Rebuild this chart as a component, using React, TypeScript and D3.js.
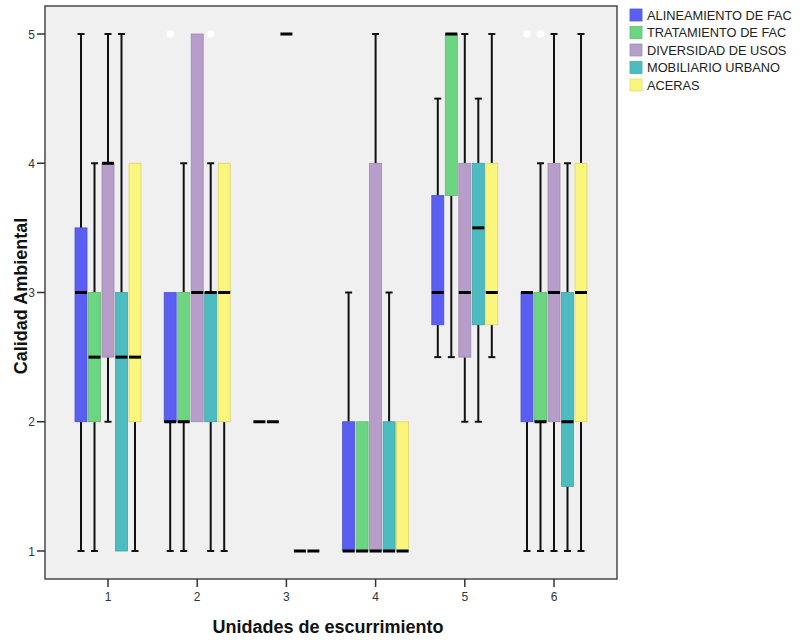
import React from "react";
import * as d3 from "d3";

// Groups along the x axis (Unidades de escurrimiento)
const groups = [1, 2, 3, 4, 5, 6];
const seriesNames = [
  "ALINEAMIENTO DE FAC",
  "TRATAMIENTO DE FAC",
  "DIVERSIDAD DE USOS",
  "MOBILIARIO URBANO",
  "ACERAS",
];
const seriesColors = ["#5a5ff2", "#6cd582", "#b79dca", "#4cbcc0", "#faf57c"];

// Five-number summaries (min, Q1, median, Q3, max) per series, one row per group
const alineamientoStats = [
  [1, 2, 3, 3.5, 5],
  [1, 2, 2, 3, 3],
  [2, 2, 2, 2, 2],
  [1, 1, 1, 2, 3],
  [2.5, 2.75, 3, 3.75, 4.5],
  [1, 2, 3, 3, 3],
];
const tratamientoStats = [
  [1, 2, 2.5, 3, 4],
  [1, 2, 2, 3, 4],
  [2, 2, 2, 2, 2],
  [1, 1, 1, 2, 2],
  [2.5, 3.75, 5, 5, 5],
  [1, 2, 2, 3, 4],
];
const diversidadStats = [
  [2, 2.5, 4, 4, 5],
  [2, 2, 3, 5, 5],
  [5, 5, 5, 5, 5],
  [1, 1, 1, 4, 5],
  [2, 2.5, 3, 4, 5],
  [1, 2, 3, 4, 5],
];
const mobiliarioStats = [
  [1, 1, 2.5, 3, 5],
  [1, 2, 3, 3, 4],
  [1, 1, 1, 1, 1],
  [1, 1, 1, 2, 3],
  [2, 2.75, 3.5, 4, 4.5],
  [1, 1.5, 2, 3, 4],
];
const acerasStats = [
  [1, 2, 2.5, 4, 4],
  [1, 2, 3, 4, 4],
  [1, 1, 1, 1, 1],
  [1, 1, 1, 2, 2],
  [2.5, 2.75, 3, 4, 5],
  [1, 2, 3, 4, 5],
];
// Outliers: [group, seriesIndex, value]
const outliers: [number, number, number][] = [
  [2, 0, 5],
  [2, 3, 5],
  [6, 0, 5],
  [6, 1, 5],
];
const yTicks = [1, 2, 3, 4, 5];

const allStats = [alineamientoStats, tratamientoStats, diversidadStats, mobiliarioStats, acerasStats];

const frame = { left: 45, right: 617, top: 6, bottom: 579 };
const font = "'Liberation Sans', Arial, sans-serif";

export default function App() {
  const x = d3.scaleLinear().domain([1, 6]).range([108, 554]);
  const y = d3.scaleLinear().domain([1, 5]).range([551, 34]);
  const slot = d3
    .scaleBand<number>()
    .domain(d3.range(seriesNames.length))
    .range([-33.75, 33.75]);
  const boxW = 12;
  const capW = 7;

  const marks: React.ReactNode[] = [];
  groups.forEach((g, gi) => {
    allStats.forEach((stats, si) => {
      const [mn, q1, med, q3, mx] = stats[gi];
      const cx = x(g) + slot(si)! + slot.bandwidth() / 2;
      const color = seriesColors[si];
      const key = `${g}-${si}`;
      const els: React.ReactNode[] = [];
      if (mx > q3) {
        els.push(<line key="wu" x1={cx} x2={cx} y1={y(q3)} y2={y(mx)} stroke="#111" strokeWidth={2} />);
        els.push(<line key="cu" x1={cx - capW / 2} x2={cx + capW / 2} y1={y(mx)} y2={y(mx)} stroke="#111" strokeWidth={2} />);
      }
      if (mn < q1) {
        els.push(<line key="wl" x1={cx} x2={cx} y1={y(q1)} y2={y(mn)} stroke="#111" strokeWidth={2} />);
        els.push(<line key="cl" x1={cx - capW / 2} x2={cx + capW / 2} y1={y(mn)} y2={y(mn)} stroke="#111" strokeWidth={2} />);
      }
      if (q3 > q1) {
        els.push(
          <rect
            key="b"
            x={cx - boxW / 2}
            y={y(q3)}
            width={boxW}
            height={y(q1) - y(q3)}
            fill={color}
            stroke={d3.color(color)!.darker(0.4).formatHex()}
            strokeWidth={0.8}
          />
        );
      }
      els.push(
        <line key="m" x1={cx - boxW / 2} x2={cx + boxW / 2} y1={y(med)} y2={y(med)} stroke="#000" strokeWidth={3} />
      );
      marks.push(<g key={key}>{els}</g>);
    });
  });

  const outlierMarks = outliers.map(([g, si, v], i) => {
    const cx = x(g) + slot(si)! + slot.bandwidth() / 2;
    return <circle key={i} cx={cx} cy={y(v)} r={4} fill="#ffffff" stroke="#f4f4f4" strokeWidth={0.8} />;
  });

  return (
    <svg width={801} height={640} style={{ position: "absolute", left: 0, top: 0, background: "#fff" }}>
      <rect
        x={frame.left}
        y={frame.top}
        width={frame.right - frame.left}
        height={frame.bottom - frame.top}
        fill="#f0f0f0"
        stroke="#4a4a4a"
        strokeWidth={1.5}
      />
      {marks}
      {outlierMarks}
      {/* y axis */}
      {yTicks.map((t) => (
        <g key={t}>
          <line x1={frame.left - 8} x2={frame.left} y1={y(t)} y2={y(t)} stroke="#333" strokeWidth={1.5} />
          <text x={frame.left - 10} y={y(t) + 4.5} textAnchor="end" fontSize={12} fontFamily={font} fill="#333">
            {t}
          </text>
        </g>
      ))}
      {/* x axis */}
      {groups.map((g) => (
        <g key={g}>
          <line x1={x(g)} x2={x(g)} y1={frame.bottom} y2={frame.bottom + 8} stroke="#333" strokeWidth={1.5} />
          <text x={x(g)} y={frame.bottom + 22} textAnchor="middle" fontSize={12} fontFamily={font} fill="#333">
            {g}
          </text>
        </g>
      ))}
      <text
        x={328}
        y={633}
        textAnchor="middle"
        fontSize={18}
        fontWeight="bold"
        fontFamily={font}
        fill="#111"
      >
        Unidades de escurrimiento
      </text>
      <text
        transform={`translate(27, 296) rotate(-90)`}
        textAnchor="middle"
        fontSize={18}
        fontWeight="bold"
        fontFamily={font}
        fill="#111"
      >
        Calidad Ambiental
      </text>
      {/* legend */}
      {seriesNames.map((name, i) => (
        <g key={name} transform={`translate(630, ${9 + i * 17.5})`}>
          <rect x={0} y={0} width={12} height={12} fill={seriesColors[i]} stroke={d3.color(seriesColors[i])!.darker(0.3).formatHex()} strokeWidth={0.8} />
          <text x={17} y={10.5} fontSize={12.8} fontFamily={font} fill="#222">
            {name}
          </text>
        </g>
      ))}
    </svg>
  );
}
